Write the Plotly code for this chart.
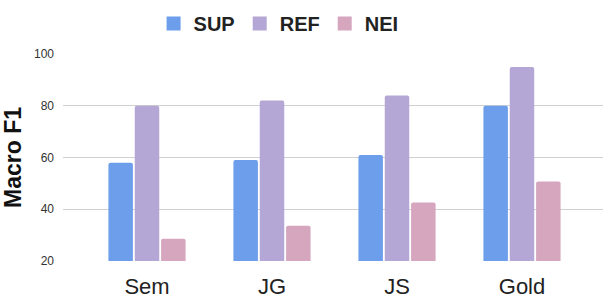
import plotly.graph_objects as go

categories = ["Sem", "JG", "JS", "Gold"]
sup = [58, 59, 61, 80]
ref = [80, 82, 84, 95]
nei = [28.6, 33.6, 42.6, 50.7]
y_ticks = [20, 40, 60, 80, 100]

FONT = "Arial, Liberation Sans, sans-serif"

fig = go.Figure()
for name, vals, color in [("SUP", sup, "#6d9eeb"), ("REF", ref, "#b4a7d6"), ("NEI", nei, "#d5a6bd")]:
    fig.add_trace(go.Bar(name=name, x=categories, y=vals, base=0, showlegend=False,
                         legendgroup=name, marker=dict(color=color, line=dict(width=0))))
    fig.add_trace(go.Scatter(name=name, x=[None], y=[None], mode="markers", legendgroup=name,
                             marker=dict(symbol="square", size=14, color=color, line=dict(width=0))))

fig.update_layout(
    width=603, height=300,
    margin=dict(l=63, r=0, t=54, b=39, autoexpand=False),
    paper_bgcolor="white", plot_bgcolor="white",
    barmode="group", bargap=0.368, bargroupgap=0.07, barcornerradius=2,
    font=dict(family=FONT, color="#222222"),
    legend=dict(orientation="h", xref="container", yref="container", x=0.462, xanchor="center",
                y=0.922, yanchor="middle",
                font=dict(family=FONT, size=20, color="#222222", weight="bold"),
                itemwidth=30, tracegroupgap=0),
    xaxis=dict(range=[-0.672, 3.648], showgrid=False, showline=False, zeroline=False,
               tickfont=dict(size=22, color="#222222"), ticks="", ticklabelstandoff=10),
    yaxis=dict(range=[20, 100], tickvals=y_ticks, showgrid=True, gridcolor="#d0d0d0", gridwidth=1,
               zeroline=False, showline=False, ticks="", ticklabelstandoff=8,
               tickfont=dict(size=12, color="#333333"),
               title=dict(text="Macro F1", font=dict(size=23, color="#111111", weight="bold"), standoff=12)),
)

fig.write_html("out.html", config={"displayModeBar": False},
               post_script="document.body.style.margin='0';document.body.style.overflow='hidden';")
